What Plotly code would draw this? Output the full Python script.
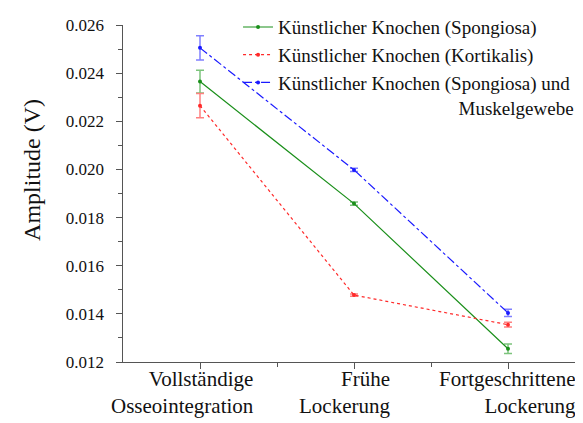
import plotly.graph_objects as go

categories = ["Vollständige<br>Osseointegration", "Frühe<br>Lockerung", "Fortgeschrittene<br>Lockerung"]
x_pos = [1, 2, 3]
spongiosa = [0.02365, 0.01858, 0.01255]
spongiosa_err = [0.00047, 0.00007, 0.0002]
kortikalis = [0.02265, 0.01478, 0.01355]
kortikalis_err = [0.0005, 0.00005, 0.0001]
muskel = [0.02505, 0.01998, 0.01404]
muskel_err = [0.0005, 0.00007, 0.00015]

names = ["Künstlicher Knochen (Spongiosa)",
         "Künstlicher Knochen (Kortikalis)",
         "Künstlicher Knochen (Spongiosa) und<br>" + "\u00a0" * 38 + "Muskelgewebe"]

SERIF = "Liberation Serif"
label_shift = [56, 38, 70]

fig = go.Figure()
specs = [
    (spongiosa, spongiosa_err, "#1a8f1a", "#7cc47c", "solid"),
    (kortikalis, kortikalis_err, "#ff2a2a", "#ff8080", "dot"),
    (muskel, muskel_err, "#1a1aff", "#8080ff", "dashdot"),
]
for (vals, err, col, ecol, dash), nm in zip(specs, names):
    fig.add_trace(go.Scatter(
        x=x_pos, y=vals, name=nm, mode="lines+markers",
        line=dict(color=col, width=1.2, dash=dash),
        marker=dict(color=col, size=4),
        error_y=dict(type="data", array=err, visible=True, color=ecol, thickness=1.5, width=4),
    ))

for xp, lab, sh in zip(x_pos, categories, label_shift):
    fig.add_annotation(x=xp, y=0, xref="x", yref="paper", text=lab, showarrow=False,
                       xanchor="right", yanchor="top", xshift=sh, yshift=-3, align="right",
                       font=dict(family=SERIF, size=21, color="#111"))

fig.add_annotation(x=-0.197, y=0.57, xref="paper", yref="paper", text="Amplitude (V)",
                   showarrow=False, textangle=-90, xanchor="center", yanchor="middle",
                   font=dict(family=SERIF, size=24, color="#111"))

fig.update_layout(
    width=583, height=423,
    margin=dict(l=115, r=6, t=17, b=69, autoexpand=False),
    paper_bgcolor="white", plot_bgcolor="white",
    font=dict(family=SERIF, color="#111"),
    showlegend=True,
    legend=dict(x=0.249, y=1.05, xanchor="left", yanchor="top", bgcolor="rgba(0,0,0,0)",
                valign="top", font=dict(family=SERIF, size=19), tracegroupgap=0, itemwidth=30),
    xaxis=dict(range=[0.5, 3.5], tickvals=x_pos, showticklabels=False, showgrid=False,
               zeroline=False, showline=True, linecolor="#555", linewidth=1.2,
               ticks="outside", ticklen=6, tickcolor="#555",
               minor=dict(tickvals=[1.5, 2.5], ticks="outside", ticklen=4, tickcolor="#555")),
    yaxis=dict(range=[0.012, 0.026], dtick=0.002, tickformat=".3f", showgrid=False,
               zeroline=False, showline=True, linecolor="#555", linewidth=1.2,
               ticks="outside", ticklen=6, tickcolor="#555", ticksuffix="\u00a0\u00a0",
               tickfont=dict(family=SERIF, size=17),
               minor=dict(dtick=0.001, ticks="outside", ticklen=4, tickcolor="#555")),
)

fig.write_html("out.html")
